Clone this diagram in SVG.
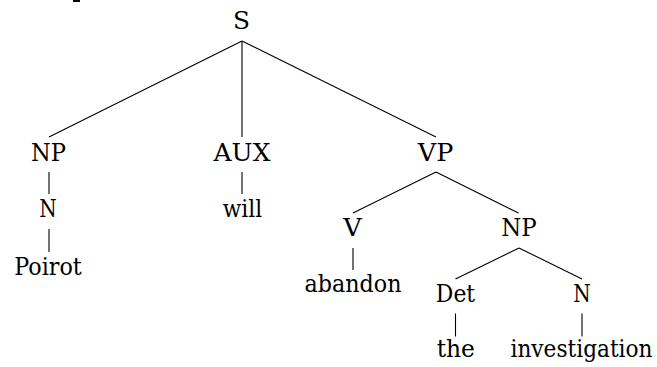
<svg xmlns="http://www.w3.org/2000/svg" width="657" height="367" viewBox="0 0 657 367">
<style>
.t text{fill:#000;text-anchor:middle}
.e line{stroke:#000;stroke-width:1.1}
</style>
<rect width="657" height="367" fill="#fff"/>
<rect x="73" y="0" width="7" height="2" fill="#000"/>
<g class="e" id="connectors">
<line x1="242" y1="41" x2="49" y2="137"/>
<line x1="242" y1="41" x2="242" y2="137"/>
<line x1="242" y1="41" x2="436" y2="137"/>
<line x1="49" y1="172" x2="49" y2="194"/>
<line x1="49" y1="229" x2="49" y2="252"/>
<line x1="242" y1="172" x2="242" y2="194"/>
<line x1="436" y1="172" x2="353" y2="213"/>
<line x1="436" y1="172" x2="518.5" y2="213"/>
<line x1="353" y1="248" x2="353" y2="270"/>
<line x1="519" y1="248" x2="455.5" y2="279"/>
<line x1="519" y1="248" x2="582" y2="279"/>
<line x1="455.5" y1="313.5" x2="455.5" y2="336.5"/>
<line x1="582" y1="313.5" x2="582" y2="336.5"/>
</g>
<g class="t" font-family="DejaVu Serif, serif" font-size="24">
<g id="S"><text x="241.5" y="28.5" textLength="17" lengthAdjust="spacingAndGlyphs">S</text></g>
<g id="NP1"><text x="48.5" y="160.5" textLength="35" lengthAdjust="spacingAndGlyphs">NP</text></g>
<g id="AUX"><text x="242" y="160.5" textLength="57" lengthAdjust="spacingAndGlyphs">AUX</text></g>
<g id="VP"><text x="435.5" y="160.5" textLength="35.5" lengthAdjust="spacingAndGlyphs">VP</text></g>
<g id="N1"><text x="48" y="217" textLength="17.5" lengthAdjust="spacingAndGlyphs">N</text></g>
<g id="will"><text x="242.5" y="217" textLength="39.5" lengthAdjust="spacingAndGlyphs">will</text></g>
<g id="Poirot"><text x="48" y="274.5" textLength="67.5" lengthAdjust="spacingAndGlyphs">Poirot</text></g>
<g id="V"><text x="352.5" y="236" textLength="18.5" lengthAdjust="spacingAndGlyphs">V</text></g>
<g id="NP2"><text x="519" y="236" textLength="35.5" lengthAdjust="spacingAndGlyphs">NP</text></g>
<g id="abandon"><text x="353" y="292" textLength="97" lengthAdjust="spacingAndGlyphs">abandon</text></g>
<g id="Det"><text x="455.5" y="301.5" textLength="39.3" lengthAdjust="spacingAndGlyphs">Det</text></g>
<g id="N2"><text x="582" y="301.5" textLength="17.5" lengthAdjust="spacingAndGlyphs">N</text></g>
<g id="the"><text x="455.8" y="356.5" textLength="38.3" lengthAdjust="spacingAndGlyphs">the</text></g>
<g id="investigation"><text x="581.5" y="356.5" textLength="142" lengthAdjust="spacingAndGlyphs">investigation</text></g>
</g>
</svg>
